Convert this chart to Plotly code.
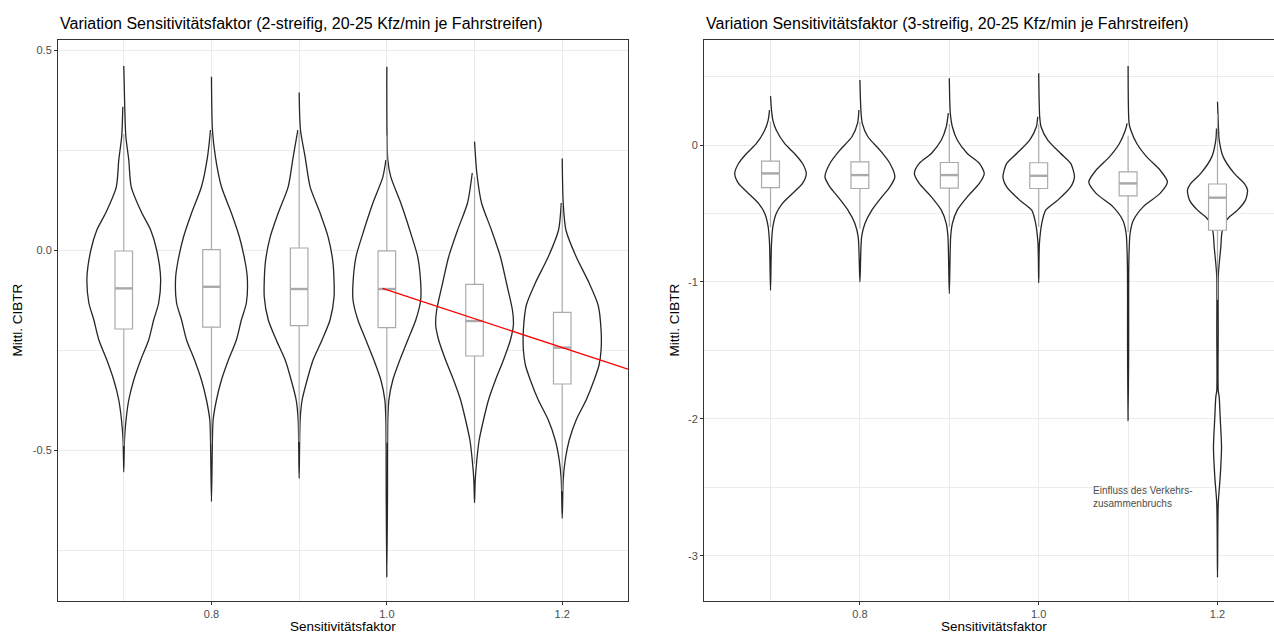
import plotly.graph_objects as go

W, H = 1274, 633
FONT = "Liberation Sans, Arial, sans-serif"

# ---------------- data ----------------
factors = [0.7, 0.8, 0.9, 1.0, 1.1, 1.2]

x_tickvals = [0.8, 1.0, 1.2]
x_ticktext = ["0.8", "1.0", "1.2"]
x_minor = [0.7, 0.9, 1.1]

left_tickvals = [-0.5, 0.0, 0.5]
left_ticktext = ["-0.5", "0.0", "0.5"]
left_minor = [-0.75, -0.25, 0.25]

right_tickvals = [-3, -2, -1, 0]
right_ticktext = ["-3", "-2", "-1", "0"]
right_minor = [-2.5, -1.5, -0.5, 0.5]

# violin profiles (left panel, 2-streifig): value levels and half widths
l07_y = [0.46, 0.358, 0.285, 0.225, 0.158, 0.093, 0.05, 0.0, -0.07, -0.1325, -0.175, -0.225, -0.275, -0.325, -0.375, -0.425, -0.475, -0.555]
l07_w = [0, 0.0011, 0.0023, 0.0057, 0.0085, 0.0205, 0.0307, 0.0375, 0.042, 0.0398, 0.0341, 0.0284, 0.0193, 0.0114, 0.0057, 0.0026, 0.0008, 0]
l08_y = [0.433, 0.3, 0.233, 0.158, 0.0925, 0.033, -0.0325, -0.07, -0.1325, -0.175, -0.225, -0.275, -0.325, -0.375, -0.425, -0.475, -0.629]
l08_w = [0, 0.0011, 0.0045, 0.0114, 0.0227, 0.0318, 0.0386, 0.0409, 0.0398, 0.0341, 0.0284, 0.0193, 0.0114, 0.0057, 0.0019, 0.0011, 0]
l09_y = [0.394, 0.3, 0.233, 0.158, 0.0925, 0.033, -0.0325, -0.117, -0.175, -0.225, -0.275, -0.325, -0.375, -0.425, -0.571]
l09_w = [0, 0.0015, 0.0068, 0.0125, 0.0239, 0.033, 0.0386, 0.0398, 0.0352, 0.0261, 0.0159, 0.0091, 0.0034, 0.0011, 0]
l10_y = [0.458, 0.225, 0.183, 0.1175, 0.05, -0.017, -0.0825, -0.125, -0.175, -0.225, -0.275, -0.325, -0.375, -0.425, -0.625, -0.817]
l10_w = [0, 0.0011, 0.0045, 0.0159, 0.0261, 0.0352, 0.0386, 0.0386, 0.033, 0.0239, 0.0148, 0.0068, 0.0023, 0.0011, 0.0007, 0]
l11_y = [0.271, 0.1925, 0.1175, 0.05, -0.017, -0.0825, -0.15, -0.1875, -0.225, -0.275, -0.325, -0.375, -0.425, -0.475, -0.525, -0.575, -0.632]
l11_w = [0, 0.0026, 0.008, 0.0193, 0.0295, 0.0364, 0.0432, 0.0443, 0.0409, 0.033, 0.0239, 0.0159, 0.0102, 0.0053, 0.0026, 0.0008, 0]
l12_y = [0.229, 0.1175, 0.05, -0.017, -0.0825, -0.1375, -0.2, -0.25, -0.2875, -0.325, -0.375, -0.425, -0.475, -0.525, -0.575, -0.671]
l12_w = [0, 0.0011, 0.0042, 0.0159, 0.0307, 0.0409, 0.0443, 0.0443, 0.042, 0.0364, 0.0273, 0.0159, 0.008, 0.0034, 0.0011, 0]

# violin profiles (right panel, 3-streifig)
r07_y = [0.358, 0.256, 0.183, 0.11, 0.012, -0.061, -0.134, -0.207, -0.28, -0.353, -0.426, -0.5, -0.598, -0.719, -1.061]
r07_w = [0, 0.0011, 0.0026, 0.0064, 0.0157, 0.0268, 0.0358, 0.04, 0.0358, 0.0246, 0.0134, 0.0064, 0.0026, 0.0011, 0]
r08_y = [0.475, 0.256, 0.161, 0.061, -0.037, -0.134, -0.232, -0.305, -0.378, -0.475, -0.573, -0.671, -1.0]
r08_w = [0, 0.0011, 0.0026, 0.0089, 0.0224, 0.0336, 0.0391, 0.0336, 0.0246, 0.0134, 0.0056, 0.0019, 0]
r09_y = [0.488, 0.234, 0.134, 0.037, -0.061, -0.134, -0.207, -0.28, -0.378, -0.475, -0.573, -0.671, -1.085]
r09_w = [0, 0.0011, 0.0034, 0.0089, 0.0201, 0.0336, 0.0391, 0.0336, 0.0201, 0.0089, 0.0034, 0.0015, 0]
r10_y = [0.525, 0.207, 0.134, 0.037, -0.061, -0.134, -0.232, -0.305, -0.402, -0.475, -0.573, -0.719, -1.007]
r10_w = [0, 0.0011, 0.0026, 0.0101, 0.0246, 0.0358, 0.04, 0.0358, 0.0213, 0.0078, 0.0034, 0.0008, 0]
r11_y = [0.578, 0.159, 0.11, 0.012, -0.086, -0.183, -0.268, -0.353, -0.451, -0.549, -0.646, -0.865, -1.5, -2.012]
r11_w = [0, 0.0011, 0.003, 0.0097, 0.0209, 0.0358, 0.044, 0.0358, 0.0168, 0.0059, 0.0022, 0.0008, 0.0006, 0]
r12_y = [0.317, 0.122, 0.037, -0.086, -0.207, -0.28, -0.329, -0.402, -0.475, -0.525, -0.573, -0.646, -0.744, -0.865, -0.963, -1.353, -1.792, -1.841, -1.988, -2.207, -2.426, -2.621, -3.158]
r12_w = [0, 0.0011, 0.0019, 0.0064, 0.0187, 0.0299, 0.0336, 0.0313, 0.0224, 0.0131, 0.0075, 0.0048, 0.0037, 0.0019, 0.0008, 0.0008, 0.0008, 0.0019, 0.003, 0.0045, 0.003, 0.0008, 0]

# boxplot statistics
left_q1 = [-0.1975, -0.193, -0.189, -0.194, -0.265, -0.335]
left_med = [-0.096, -0.092, -0.0975, -0.0975, -0.1775, -0.244]
left_q3 = [-0.0025, 0.001, 0.005, -0.002, -0.086, -0.156]
left_lo = [-0.49, -0.484, -0.48, -0.482, -0.534, -0.603]
left_hi = [0.29, 0.292, 0.296, 0.286, 0.183, 0.113]

right_q1 = [-0.31, -0.317, -0.315, -0.317, -0.371, -0.622]
right_med = [-0.207, -0.219, -0.219, -0.224, -0.28, -0.384]
right_q3 = [-0.117, -0.122, -0.127, -0.129, -0.195, -0.284]
right_lo = [-0.60, -0.61, -0.597, -0.599, -0.635, -1.13]
right_hi = [0.173, 0.17, 0.155, 0.153, 0.069, 0.226]

# red trend line (left panel)
trend_x = [0.995, 1.275]
trend_y = [-0.096, -0.298]

note_text = "Einfluss des Verkehrs-<br>zusammenbruchs"
note_x, note_y = 1.059, -2.57

title_left = "Variation Sensitivitätsfaktor (2-streifig, 20-25 Kfz/min je Fahrstreifen)"
title_right = "Variation Sensitivitätsfaktor (3-streifig, 20-25 Kfz/min je Fahrstreifen)"
x_title = "Sensitivitätsfaktor"
y_title = "Mittl. CIBTR"

left_profiles = [(l07_y, l07_w), (l08_y, l08_w), (l09_y, l09_w), (l10_y, l10_w), (l11_y, l11_w), (l12_y, l12_w)]
right_profiles = [(r07_y, r07_w), (r08_y, r08_w), (r09_y, r09_w), (r10_y, r10_w), (r11_y, r11_w), (r12_y, r12_w)]

# ---------------- figure ----------------
VIOLIN_LINE = "#262626"
BOX_LINE = "#aaaaaa"
BOX_W = 0.02

fig = go.Figure()


def add_violin(center, ys, ws, xa, ya):
    xs = [center + w for w in ws] + [center - w for w in ws[-2:0:-1]]
    yy = list(ys) + list(ys[-2:0:-1])
    fig.add_trace(go.Scatter(
        x=xs, y=yy, mode="lines", fill="toself", fillcolor="white",
        line=dict(color=VIOLIN_LINE, width=1.3, shape="spline", smoothing=0.7),
        xaxis=xa, yaxis=ya, hoverinfo="skip", showlegend=False))


def add_boxes(q1, med, q3, lo, hi, xa, ya):
    fig.add_trace(go.Box(
        x=factors, q1=q1, median=med, q3=q3, lowerfence=lo, upperfence=hi,
        width=BOX_W, whiskerwidth=0, fillcolor="white", boxpoints=False,
        line=dict(color=BOX_LINE, width=1.2), xaxis=xa, yaxis=ya,
        hoverinfo="skip", showlegend=False))
    mx, my = [], []
    for f, m in zip(factors, med):
        mx += [f - BOX_W / 2, f + BOX_W / 2, None]
        my += [m, m, None]
    fig.add_trace(go.Scatter(x=mx, y=my, mode="lines",
                             line=dict(color=BOX_LINE, width=2.4),
                             xaxis=xa, yaxis=ya, hoverinfo="skip", showlegend=False))


for f, (ys, ws) in zip(factors, left_profiles):
    add_violin(f, ys, ws, "x", "y")
for f, (ys, ws) in zip(factors, right_profiles):
    add_violin(f, ys, ws, "x2", "y2")

add_boxes(left_q1, left_med, left_q3, left_lo, left_hi, "x", "y3")
add_boxes(right_q1, right_med, right_q3, right_lo, right_hi, "x2", "y4")

fig.add_trace(go.Scatter(x=trend_x, y=trend_y, mode="lines",
                         line=dict(color="#ff0000", width=1.4),
                         xaxis="x", yaxis="y3", hoverinfo="skip", showlegend=False))

X1 = [58 / W, 628 / W]
X2 = [704 / W, 1.0]
YD = [32 / H, 593 / H]
LEFT_YR = [-0.8775, 0.525]
RIGHT_YR = [-3.331, 0.768]

grid = dict(showgrid=True, gridcolor="#ebebeb", gridwidth=1, zeroline=False,
            showline=True, linecolor="#333333", linewidth=1,
            ticks="outside", ticklen=3, tickwidth=1, tickcolor="#333333",
            tickfont=dict(family=FONT, size=11, color="#4d4d4d"),
            tickmode="array")


def minor(vals):
    return dict(tickmode="array", tickvals=vals, showgrid=True,
                gridcolor="#ebebeb", gridwidth=0.6, ticks="")


fig.update_layout(
    width=W, height=H, margin=dict(l=0, r=0, t=0, b=0),
    paper_bgcolor="white", plot_bgcolor="white", showlegend=False,
    xaxis=dict(domain=X1, range=[0.625, 1.275], anchor="y", mirror=True,
               tickvals=x_tickvals, ticktext=x_ticktext, minor=minor(x_minor), **grid),
    yaxis=dict(domain=YD, range=LEFT_YR, anchor="x", mirror=True,
               tickvals=left_tickvals, ticktext=left_ticktext, minor=minor(left_minor), **grid),
    xaxis2=dict(domain=X2, range=[0.6256, 1.2632], anchor="y2", mirror=True,
                tickvals=x_tickvals, ticktext=x_ticktext, minor=minor(x_minor), **grid),
    yaxis2=dict(domain=YD, range=RIGHT_YR, anchor="x2", mirror=False,
                tickvals=right_tickvals, ticktext=right_ticktext, minor=minor(right_minor), **grid),
    yaxis3=dict(overlaying="y", range=LEFT_YR, anchor="x", visible=False),
    yaxis4=dict(overlaying="y2", range=RIGHT_YR, anchor="x2", visible=False),
)

ann = []
ann.append(dict(text=title_left, x=58 / W, y=1 - 24 / H, xref="paper", yref="paper",
                xanchor="left", yanchor="middle", showarrow=False,
                font=dict(family=FONT, size=16, color="black")))
ann.append(dict(text=title_right, x=704 / W, y=1 - 24 / H, xref="paper", yref="paper",
                xanchor="left", yanchor="middle", showarrow=False,
                font=dict(family=FONT, size=16, color="black")))
for cx in [343 / W, 994 / W]:
    ann.append(dict(text=x_title, x=cx, y=1 - 626 / H, xref="paper", yref="paper",
                    xanchor="center", yanchor="middle", showarrow=False,
                    font=dict(family=FONT, size=13.5, color="black")))
for cx in [17 / W, 674 / W]:
    ann.append(dict(text=y_title, x=cx, y=1 - 320.5 / H, xref="paper", yref="paper",
                    xanchor="center", yanchor="middle", textangle=-90, showarrow=False,
                    font=dict(family=FONT, size=13.5, color="black")))
ann.append(dict(text=note_text, x=note_x, y=note_y, xref="x2", yref="y2",
                xanchor="left", yanchor="middle", align="left", showarrow=False,
                font=dict(family=FONT, size=10, color="#4d4d4d")))
fig.update_layout(annotations=ann)

fig.write_html("out.html")
